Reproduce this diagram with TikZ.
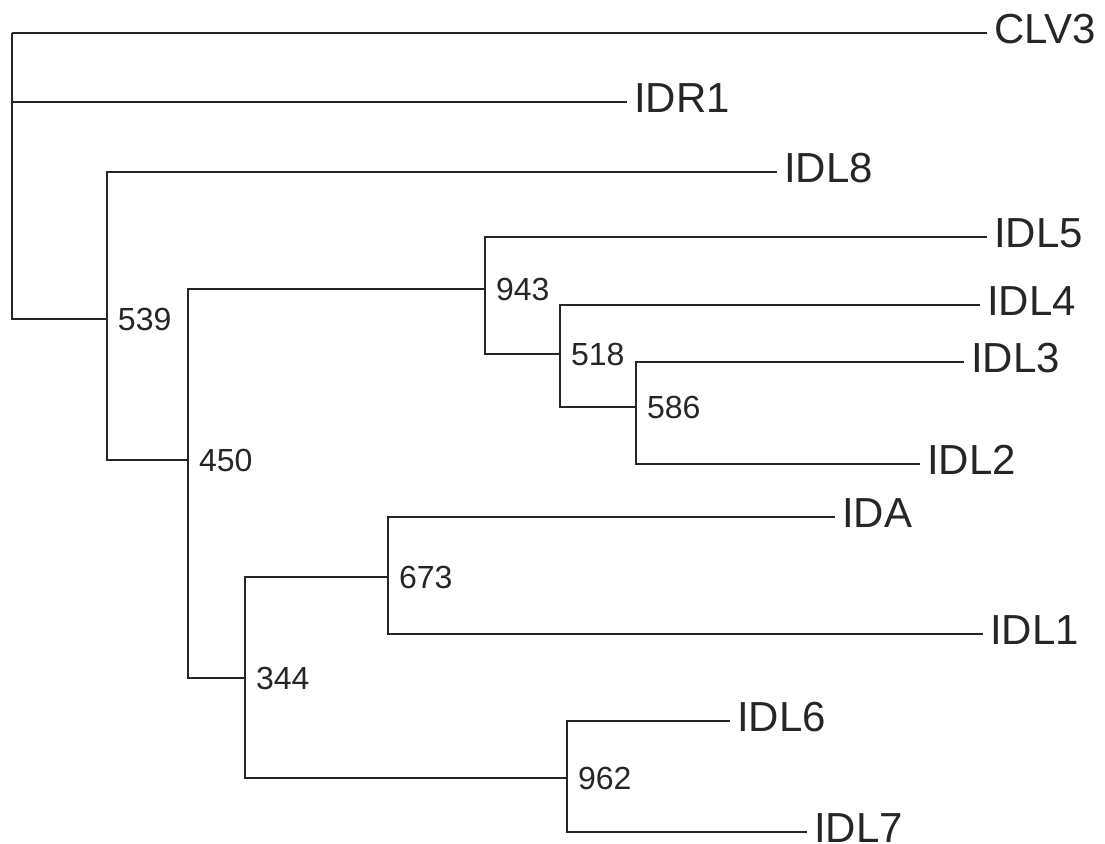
\documentclass[tikz,border=0pt]{standalone}
\usepackage{fontspec}
\setmainfont{Liberation Sans}

\begin{document}
\begin{tikzpicture}[x=0.5pt, y=-0.5pt, line width=1pt, color=black!85,
  leaf/.style={anchor=west, inner sep=3pt, text depth=4pt, font=\fontsize{21}{21}\selectfont},
  boot/.style={anchor=west, inner sep=0pt, xshift=5pt, font=\fontsize{16}{16}\selectfont}]
\useasboundingbox (0,0) rectangle (1105,844);
% inner nodes of the tree
\coordinate (root) at (12,33);
\coordinate (n539) at (107,319);
\coordinate (n450) at (188,460);
\coordinate (n943) at (485,289);
\coordinate (n518) at (560,354);
\coordinate (n586) at (636,407);
\coordinate (n344) at (245,678);
\coordinate (n673) at (388,577);
\coordinate (n962) at (567,778);
% leaves
\node[leaf] (CLV3) at (987,33) {CLV3};
\node[leaf] (IDR1) at (627,102) {IDR1};
\node[leaf] (IDL8) at (777,172) {IDL8};
\node[leaf] (IDL5) at (987,237) {IDL5};
\node[leaf] (IDL4) at (980,305) {IDL4};
\node[leaf] (IDL3) at (964,362) {IDL3};
\node[leaf] (IDL2) at (920,464) {IDL2};
\node[leaf] (IDA) at (835,517) {IDA};
\node[leaf] (IDL1) at (983,634) {IDL1};
\node[leaf] (IDL6) at (730,721) {IDL6};
\node[leaf] (IDL7) at (807,832) {IDL7};
% branches
\draw (root) |- (CLV3.west);
\draw (root) |- (IDR1.west);
\draw (root) |- (n539);
\draw (n539) |- (IDL8.west);
\draw (n539) |- (n450);
\draw (n450) |- (n943);
\draw (n450) |- (n344);
\draw (n943) |- (IDL5.west);
\draw (n943) |- (n518);
\draw (n518) |- (IDL4.west);
\draw (n518) |- (n586);
\draw (n586) |- (IDL3.west);
\draw (n586) |- (IDL2.west);
\draw (n344) |- (n673);
\draw (n344) |- (n962);
\draw (n673) |- (IDA.west);
\draw (n673) |- (IDL1.west);
\draw (n962) |- (IDL6.west);
\draw (n962) |- (IDL7.west);
% bootstrap values
\node[boot] (b539) at (n539) {539};
\node[boot] (b450) at (n450) {450};
\node[boot] (b943) at (n943) {943};
\node[boot] (b518) at (n518) {518};
\node[boot] (b586) at (n586) {586};
\node[boot] (b344) at (n344) {344};
\node[boot] (b673) at (n673) {673};
\node[boot] (b962) at (n962) {962};
\end{tikzpicture}
\end{document}
